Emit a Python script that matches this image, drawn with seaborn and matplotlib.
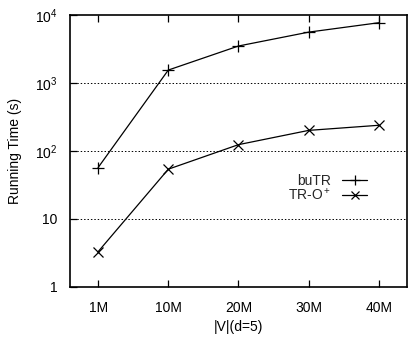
import matplotlib
matplotlib.use("Agg")
import matplotlib.pyplot as plt
import seaborn as sns
import pandas as pd
import numpy as np

categories = ["1M", "10M", "20M", "30M", "40M"]
butr = [57, 1550, 3500, 5600, 7700]
tro = [3.3, 54, 124, 201, 239]
ytick_vals = [1, 10, 100, 1000, 10000]
ytick_labels = ["1", "10", "10$^2$", "10$^3$", "10$^4$"]

sns.set_theme(style="white")
plt.rcParams['font.family'] = ['Liberation Sans', 'DejaVu Sans']
plt.rcParams['mathtext.fontset'] = 'custom'
plt.rcParams['mathtext.rm'] = 'Liberation Sans'
plt.rcParams['mathtext.it'] = 'Liberation Sans:italic'

fig = plt.figure(figsize=(4.10, 3.37), dpi=100)
ax = fig.add_axes([70/410, 1 - 287/337, (407-70)/410, (287-15)/337])

x = np.arange(len(categories))
df1 = pd.DataFrame({"x": x, "y": butr})
df2 = pd.DataFrame({"x": x, "y": tro})
sns.lineplot(data=df1, x="x", y="y", ax=ax, color="black", lw=0.9,
             marker="+", markersize=9, markeredgewidth=0.9,
             markeredgecolor="black", label="buTR")
sns.lineplot(data=df2, x="x", y="y", ax=ax, color="black", lw=0.9,
             marker="x", markersize=7, markeredgewidth=0.9,
             markeredgecolor="black", label="TR-O$^+$")

ax.set_yscale("log")
ax.set_ylim(1, 10000)
ax.set_xlim(-0.4, 4.4)
ax.set_xticks(x)
ax.set_xticklabels(categories)
ax.set_yticks(ytick_vals)
ax.set_yticklabels(ytick_labels)
ax.yaxis.set_minor_locator(matplotlib.ticker.NullLocator())
for v in [10, 100, 1000]:
    ax.axhline(v, color="black", lw=0.7, ls=(0, (1.5, 2)), zorder=0)

ax.tick_params(axis="x", direction="in", length=5, width=0.9, top=True, bottom=True,
               labelsize=10, pad=10, colors="black")
ax.tick_params(axis="y", direction="in", length=5, width=0.9, left=True, right=False,
               labelsize=10, pad=9, colors="black")
for s in ax.spines.values():
    s.set_visible(True)
    s.set_color("black")
    s.set_linewidth(1.2)

ax.set_xlabel("|V|(d=5)", fontsize=10, labelpad=4, color="black")
ax.set_ylabel("Running Time (s)", fontsize=10, labelpad=9, color="black")

leg = ax.legend(loc="center right", bbox_to_anchor=(0.902, 0.362), frameon=False,
                markerfirst=False, fontsize=10, handlelength=1.8, handletextpad=0.8,
                labelspacing=-0.1, borderpad=0, markerscale=0.8)

fig.savefig("out.png", dpi=100)
